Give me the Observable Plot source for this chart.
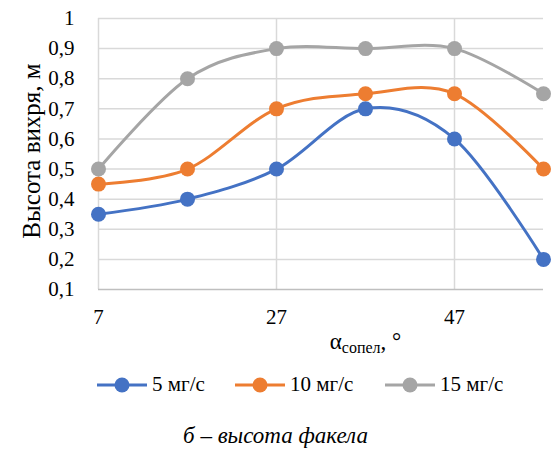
<!DOCTYPE html>
<html><head><meta charset="utf-8">
<script src="https://cdn.jsdelivr.net/npm/d3@7"></script>
<script src="https://cdn.jsdelivr.net/npm/@observablehq/plot@0.6"></script>
<style>
body{margin:0;background:#fff;font-family:"Liberation Serif","Times New Roman",Times,"DejaVu Serif",serif;}
#wrap{position:relative;width:551px;height:461px;}
#xlab{position:absolute;left:0;width:551px;top:329px;text-align:center;font-size:23px;color:#000;padding-left:180px;box-sizing:border-box;}
#xlab sub{font-size:16px;vertical-align:-4px;}
.li{position:absolute;top:372px;display:flex;align-items:center;font-size:21px;}
.li svg{margin-right:5px;}
#cap{position:absolute;top:423px;left:0;width:551px;text-align:center;font-style:italic;font-size:23px;}
</style></head>
<body><div id="wrap"><div id="chart"></div>
<div id="xlab">α<sub>сопел</sub>, °</div>
<div id="legend"></div>
<div id="cap">б – высота факела</div>
</div>
<script>
const angles = [7, 17, 27, 37, 47, 57];
const s5 = [0.35, 0.4, 0.5, 0.7, 0.6, 0.2];
const s10 = [0.45, 0.5, 0.7, 0.75, 0.75, 0.5];
const s15 = [0.5, 0.8, 0.9, 0.9, 0.9, 0.75];
const seriesNames = ["5 мг/с", "10 мг/с", "15 мг/с"];
const colors = ["#4472C4", "#ED7D31", "#A5A5A5"];
const yTicks = [0.1,0.2,0.3,0.4,0.5,0.6,0.7,0.8,0.9,1];
const xTicks = [7, 27, 47];

const all = [s5, s10, s15];
const data = [];
all.forEach((s, i) => s.forEach((v, j) => data.push({x: angles[j], y: v, s: seriesNames[i]})));

const fmt = v => String(Math.round(v*10)/10).replace(".", ",");
const chart = Plot.plot({
  width: 551, height: 335,
  marginLeft: 98, marginRight: 8, marginTop: 18, marginBottom: 46,
  style: {fontFamily: "Liberation Serif, Times New Roman, serif", fontSize: "21px", color: "#000"},
  x: {domain: [7, 57]},
  y: {domain: [0.1, 1]},
  color: {domain: seriesNames, range: colors},
  marks: [
    Plot.ruleY(yTicks.slice(1), {stroke: "#d9d9d9", strokeWidth: 1.5}),
    Plot.ruleX(xTicks, {stroke: "#d9d9d9", strokeWidth: 1.5}),
    Plot.ruleY([0.1], {stroke: "#bfbfbf", strokeWidth: 1.5}),
    Plot.axisY(yTicks, {tickSize: 0, tickPadding: 24, tickFormat: fmt, label: null, fontSize: 21}),
    Plot.axisX(xTicks, {tickSize: 0, tickPadding: 20, label: null, fontSize: 21}),
    Plot.text(["Высота вихря, м"], {frameAnchor: "left", textAnchor: "middle", rotate: -90, dx: -67, dy: -3, fontSize: 25}),
    Plot.line(data, {x: "x", y: "y", z: "s", stroke: "s", strokeWidth: 3, curve: "cardinal"}),
    Plot.dot(data, {x: "x", y: "y", fill: "s", r: 7.5})
  ]
});
document.getElementById("chart").appendChild(chart);

const leg = document.getElementById("legend");
const legLeft = [97, 235, 385];
seriesNames.forEach((n, i) => {
  const d = document.createElement("div"); d.className = "li";
  d.style.left = legLeft[i] + "px";
  d.innerHTML = `<svg width="50" height="16"><line x1="0" x2="50" y1="8" y2="8" stroke="${colors[i]}" stroke-width="3"/><circle cx="25" cy="8" r="7.5" fill="${colors[i]}"/></svg><span>${n}</span>`;
  leg.appendChild(d);
});
</script></body></html>
